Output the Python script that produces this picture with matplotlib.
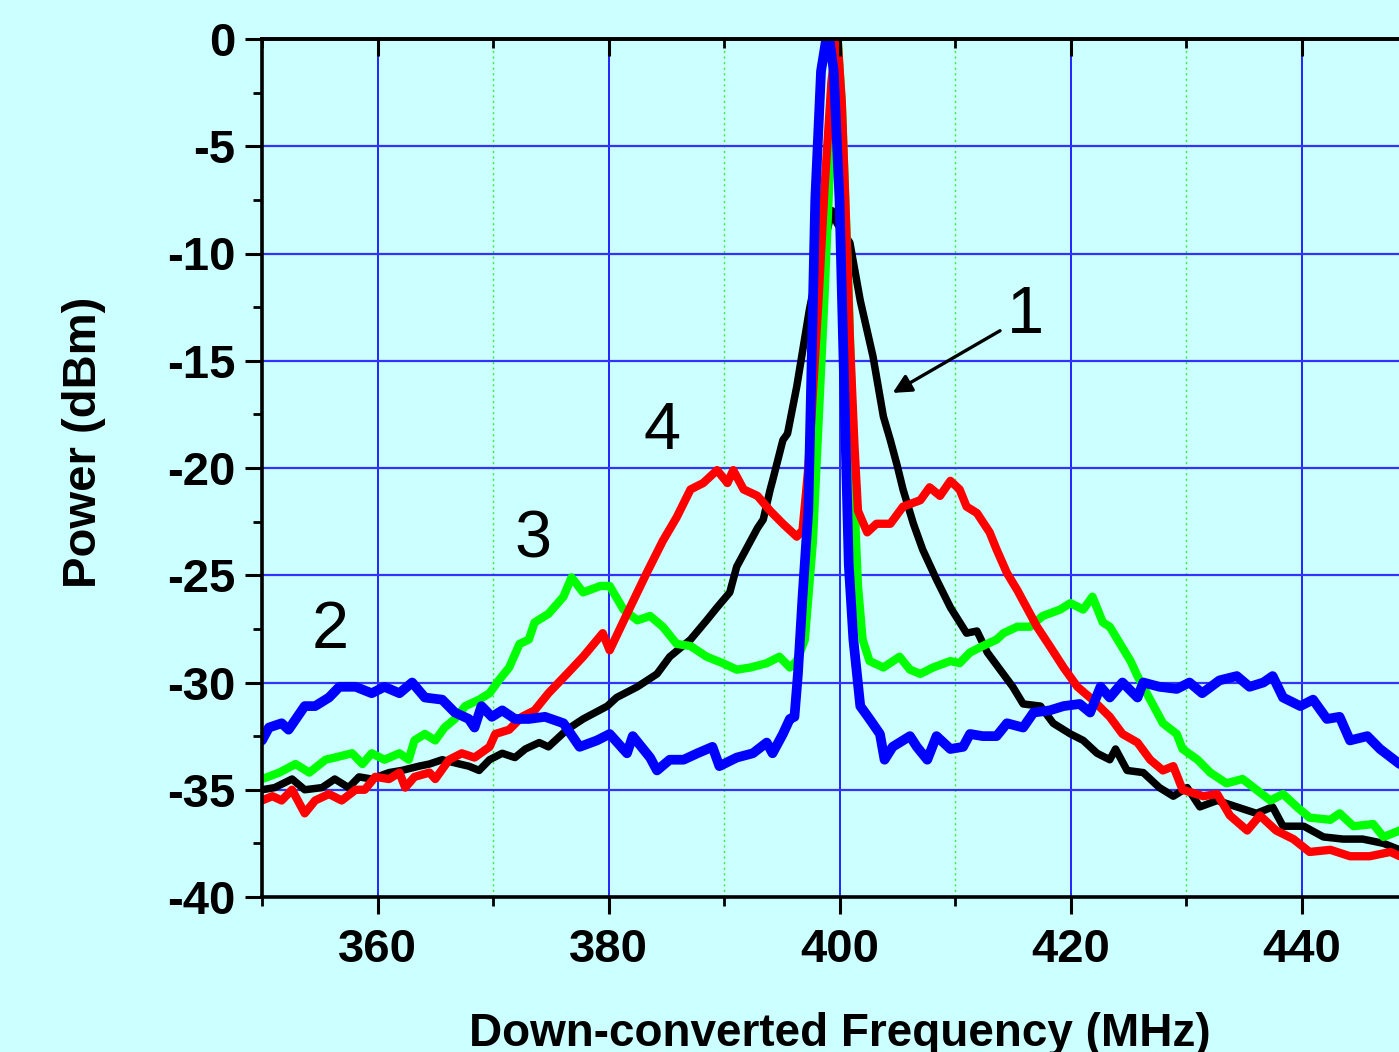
#!/usr/bin/env python3
import matplotlib
matplotlib.use("Agg")
import matplotlib.pyplot as plt
from matplotlib.ticker import MultipleLocator

# curve 1 (black)
blk_f = [350, 351.1, 352.6, 353.7, 355.2, 356.3, 357.5, 358.4, 359.5, 361.0,
         362.1, 363.6, 364.5, 365.6, 367.1, 367.9, 368.8, 369.7, 370.8, 371.9,
         372.8, 374.0, 374.8, 376.4, 377.8, 379.9, 380.7, 382.5, 384.2, 385.3,
         387.1, 388.5, 389.4, 390.5, 391.1, 392.3, 392.9, 393.4, 394.0, 394.2,
         395.1, 395.5, 396.3, 397.4, 398.2, 398.9, 399.35, 399.8, 400.3, 400.9,
         401.8, 402.9, 403.8, 404.4, 405.0, 405.5, 406.4, 407.2, 408.4, 409.6,
         411.0, 411.9, 412.8, 413.9, 415.0, 415.9, 417.4, 418.5, 420.0, 421.1,
         422.3, 423.4, 423.9, 424.9, 426.3, 427.7, 428.9, 430.1, 431.2, 432.7,
         434.4, 436.1, 437.5, 438.4, 440.2, 441.9, 443.6, 445.3, 447.1, 448.5]
blk_p = [-35.0, -34.9, -34.5, -35.0, -34.9, -34.5, -34.9, -34.4, -34.5, -34.2,
         -34.1, -33.9, -33.8, -33.6, -33.8, -33.9, -34.1, -33.6, -33.3, -33.5,
         -33.1, -32.8, -33.0, -32.2, -31.7, -31.1, -30.7, -30.2, -29.6, -28.8,
         -28.0, -27.1, -26.5, -25.8, -24.6, -23.4, -22.8, -22.4, -21.0, -20.6,
         -18.7, -18.4, -16.2, -12.6, -10.5, -9.0, -8.0, -8.6, -9.0, -9.5,
         -12.2, -14.8, -17.6, -18.7, -19.9, -21.0, -22.6, -23.8, -25.2, -26.5,
         -27.7, -27.6, -28.6, -29.4, -30.2, -31.0, -31.1, -31.9, -32.4, -32.7,
         -33.3, -33.6, -33.1, -34.1, -34.2, -34.9, -35.3, -34.9, -35.8, -35.5,
         -35.8, -36.1, -35.8, -36.7, -36.7, -37.2, -37.3, -37.3, -37.5, -37.8]

# curve 3 (green)
grn_f = [350, 351.5, 352.9, 354.1, 355.5, 356.3, 357.8, 358.7, 359.5, 360.6,
         361.9, 362.7, 363.2, 364.1, 365.0, 365.8, 366.7, 367.6, 368.8, 369.7,
         370.5, 371.4, 372.3, 373.1, 373.6, 374.8, 376.1, 376.8, 377.8, 379.3,
         380.1, 381.3, 382.5, 383.6, 384.7, 385.9, 387.1, 388.5, 389.9, 391.1,
         392.3, 393.7, 394.8, 395.7, 396.3, 397.0, 397.7, 398.7, 399.4, 399.8,
         400.2, 400.8, 401.4, 401.6, 402.0, 402.6, 403.8, 405.2, 406.1, 407.0,
         408.1, 409.6, 410.4, 411.3, 412.4, 413.6, 414.2, 415.4, 416.5, 417.6,
         419.1, 420.0, 421.1, 421.9, 422.8, 423.4, 424.3, 425.2, 425.8, 426.9,
         428.0, 429.2, 429.7, 431.0, 432.1, 433.5, 434.9, 436.1, 437.3, 438.4,
         439.6, 440.7, 442.5, 443.3, 444.5, 446.2, 447.1, 448.5]
grn_p = [-34.5, -34.2, -33.8, -34.2, -33.6, -33.5, -33.3, -33.8, -33.3, -33.6,
         -33.3, -33.6, -32.7, -32.4, -32.7, -32.1, -31.7, -31.1, -30.8, -30.5,
         -29.9, -29.3, -28.2, -28.0, -27.2, -26.8, -26.0, -25.1, -25.8, -25.5,
         -25.5, -26.6, -27.1, -26.9, -27.4, -28.2, -28.3, -28.8, -29.1, -29.4,
         -29.3, -29.1, -28.8, -29.3, -29.0, -28.0, -23.4, -12.0, -3.0, 0.3,
         -3.0, -12.0, -23.0, -25.5, -28.0, -29.0, -29.3, -28.8, -29.4, -29.6,
         -29.3, -29.0, -29.1, -28.6, -28.3, -28.0, -27.7, -27.4, -27.4, -26.9,
         -26.6, -26.3, -26.6, -26.0, -27.2, -27.4, -28.2, -29.0, -29.7, -30.8,
         -31.9, -32.4, -33.1, -33.6, -34.2, -34.7, -34.5, -35.0, -35.5, -35.2,
         -35.8, -36.3, -36.4, -36.1, -36.7, -36.6, -37.2, -36.9]

# curve 4 (red)
red_f = [350, 350.9, 351.7, 352.6, 353.7, 354.6, 355.8, 356.9, 358.1, 358.9,
         359.8, 361.0, 361.9, 362.4, 363.2, 364.5, 365.0, 366.2, 367.3, 368.4,
         369.7, 370.2, 371.4, 372.5, 373.6, 374.8, 376.4, 377.8, 379.5, 380.1,
         381.6, 383.3, 384.7, 385.9, 387.1, 388.2, 389.4, 390.3, 390.8, 391.7,
         392.9, 394.0, 395.1, 396.3, 396.8, 397.3, 398.2, 398.7, 399.3, 399.8,
         400.2, 400.5, 400.9, 401.3, 401.6, 402.4, 403.2, 404.4, 405.5, 407.0,
         407.8, 408.7, 409.6, 410.4, 411.0, 411.9, 413.0, 413.6, 414.5, 415.4,
         416.2, 417.1, 418.2, 419.4, 420.6, 421.9, 423.4, 424.5, 425.8, 426.9,
         428.0, 428.9, 429.7, 431.5, 432.7, 433.8, 435.3, 436.4, 437.8, 439.3,
         440.7, 442.5, 444.2, 445.9, 447.7, 448.5]
red_p = [-35.5, -35.3, -35.5, -35.0, -36.1, -35.5, -35.2, -35.5, -35.0, -35.0,
         -34.4, -34.5, -34.2, -34.9, -34.4, -34.2, -34.5, -33.6, -33.3, -33.5,
         -33.0, -32.4, -32.2, -31.6, -31.3, -30.5, -29.6, -28.8, -27.7, -28.5,
         -26.8, -24.9, -23.4, -22.3, -21.0, -20.7, -20.1, -20.7, -20.1, -21.0,
         -21.3, -22.0, -22.6, -23.2, -22.9, -20.0, -12.0, -7.0, -2.0, 0.3,
         -3.0, -7.5, -14.0, -19.0, -22.0, -23.0, -22.6, -22.6, -21.8, -21.5,
         -20.9, -21.3, -20.6, -21.0, -21.8, -22.1, -23.0, -23.8, -24.9, -25.7,
         -26.5, -27.4, -28.3, -29.3, -30.2, -30.8, -31.6, -32.4, -32.8, -33.6,
         -34.1, -33.9, -35.0, -35.3, -35.2, -36.2, -36.9, -36.2, -36.9, -37.3,
         -37.9, -37.8, -38.1, -38.1, -37.9, -38.1]

# curve 2 (blue)
blu_f = [350, 350.6, 351.7, 352.3, 353.7, 354.6, 355.8, 356.7, 358.1, 359.5,
         360.6, 361.9, 363.0, 364.1, 365.6, 366.7, 367.9, 368.4, 369.0, 369.9,
         370.8, 371.9, 373.1, 374.5, 376.1, 377.5, 379.0, 380.1, 381.6, 382.1,
         383.6, 384.2, 385.3, 386.5, 387.7, 389.0, 389.6, 391.1, 392.5, 393.7,
         394.2, 395.1, 395.7, 396.1, 396.4, 396.8, 397.3, 397.9, 398.4, 399.0,
         399.5, 400.0, 400.4, 400.8, 401.2, 401.8, 402.6, 403.5, 403.9, 404.6,
         406.1, 406.7, 407.6, 408.4, 409.6, 410.7, 411.3, 412.4, 413.6, 414.5,
         415.9, 416.8, 418.2, 419.4, 420.8, 421.7, 422.6, 423.4, 424.5, 425.8,
         426.3, 427.7, 429.2, 430.3, 431.4, 432.9, 434.4, 435.5, 436.7, 437.5,
         438.4, 439.9, 441.0, 442.2, 443.3, 444.2, 445.7, 446.8, 448.5]
blu_p = [-32.7, -32.1, -31.9, -32.2, -31.1, -31.1, -30.7, -30.2, -30.2, -30.5,
         -30.2, -30.5, -30.0, -30.7, -30.8, -31.4, -31.7, -32.1, -31.1, -31.6,
         -31.3, -31.7, -31.7, -31.6, -31.9, -33.0, -32.7, -32.4, -33.3, -32.5,
         -33.5, -34.1, -33.6, -33.6, -33.3, -33.0, -33.9, -33.5, -33.3, -32.8,
         -33.3, -32.4, -31.7, -31.6, -29.6, -26.0, -22.0, -7.5, -1.5, 0.5,
         -1.5, -7.5, -16.0, -24.5, -28.0, -31.1, -31.7, -32.4, -33.6, -33.0,
         -32.5, -33.0, -33.6, -32.5, -33.1, -33.0, -32.4, -32.5, -32.5, -31.9,
         -32.1, -31.4, -31.3, -31.1, -31.0, -31.4, -30.2, -30.7, -30.0, -30.7,
         -30.0, -30.2, -30.3, -30.0, -30.5, -29.9, -29.7, -30.2, -30.0, -29.7,
         -30.7, -31.1, -30.8, -31.7, -31.6, -32.7, -32.5, -33.1, -33.8]

# curve number labels
label_text = ["1", "2", "3", "4"]
label_f = [416.1, 355.9, 373.5, 384.6]
label_p = [-12.9, -27.6, -23.4, -18.3]
arrow_tail = (413.9, -13.6)
arrow_head = (404.6, -16.5)


def main():
    plt.rcParams["font.family"] = ["Liberation Sans", "DejaVu Sans"]
    plt.rcParams["axes.unicode_minus"] = False

    bg = "#CCFFFF"
    fig = plt.figure(figsize=(13.99, 10.52), dpi=100)
    fig.patch.set_facecolor(bg)
    ax = fig.add_axes([262 / 1399, 155 / 1052, 1155 / 1399, 858 / 1052])
    ax.set_facecolor(bg)

    style = dict(solid_joinstyle="round", solid_capstyle="round")
    ax.plot(blk_f, blk_p, color="black", lw=5.4, zorder=3, **style)
    ax.plot(grn_f, grn_p, color="#00FF00", lw=6.0, zorder=4, **style)
    ax.plot(red_f, red_p, color="#FF0000", lw=6.0, zorder=5, **style)
    ax.plot(blu_f, blu_p, color="#0000FF", lw=7.0, zorder=6, **style)

    ax.set_xlim(350, 450)
    ax.set_ylim(-40, 0)

    ax.xaxis.set_major_locator(MultipleLocator(20))
    ax.xaxis.set_minor_locator(MultipleLocator(10))
    ax.yaxis.set_major_locator(MultipleLocator(5))
    ax.yaxis.set_minor_locator(MultipleLocator(2.5))

    ax.set_axisbelow(True)
    ax.grid(which="major", axis="x", color="#0000FF", lw=1.2)
    ax.grid(which="minor", axis="x", color="#33EE33", lw=1.0, ls=(0, (1.5, 2.5)))
    ax.grid(which="major", axis="y", color="#3333FF", lw=1.6)

    for side in ["left", "bottom", "top"]:
        ax.spines[side].set_linewidth(2.6)
        ax.spines[side].set_zorder(10)
    ax.spines["right"].set_visible(False)

    ax.tick_params(which="major", direction="out", length=12, width=2.2,
                   labelsize=34)
    ax.tick_params(axis="x", which="major", pad=10)
    ax.tick_params(axis="y", which="major", pad=7)
    ax.tick_params(which="minor", direction="out", length=6.5, width=2.0)
    for lab in ax.get_xticklabels() + ax.get_yticklabels():
        lab.set_fontweight("bold")

    # ticks along the top edge point down into the plot
    top = ax.twiny()
    top.set_xlim(ax.get_xlim())
    top.xaxis.set_major_locator(MultipleLocator(20))
    top.xaxis.set_minor_locator(MultipleLocator(10))
    top.tick_params(which="major", direction="in", length=12, width=2.2,
                    labeltop=False, top=True, bottom=False)
    top.tick_params(which="minor", direction="in", length=6.5, width=2.0,
                    top=True, bottom=False)
    for side in ["left", "bottom", "right"]:
        top.spines[side].set_visible(False)
    top.spines["top"].set_linewidth(2.6)

    # label sits at the bottom edge, partly cut off as in the source figure
    ax.set_xlabel("Down-converted Frequency (MHz)", fontsize=33,
                  fontweight="bold")
    ax.xaxis.set_label_coords(0.5, -0.134)
    ax.set_ylabel("Power (dBm)", fontsize=34, fontweight="bold")
    ax.yaxis.set_label_coords(-0.135, 0.53)

    for t, f, p in zip(label_text, label_f, label_p):
        ax.text(f, p, t, fontsize=48, ha="center", va="center", zorder=8)

    ax.annotate("", xy=arrow_head, xytext=arrow_tail,
                arrowprops=dict(arrowstyle="-|>", color="black", lw=2.4,
                                mutation_scale=28, shrinkA=0, shrinkB=0),
                zorder=8)

    fig.savefig("out.png", dpi=100, facecolor=fig.get_facecolor())


if __name__ == "__main__":
    main()
